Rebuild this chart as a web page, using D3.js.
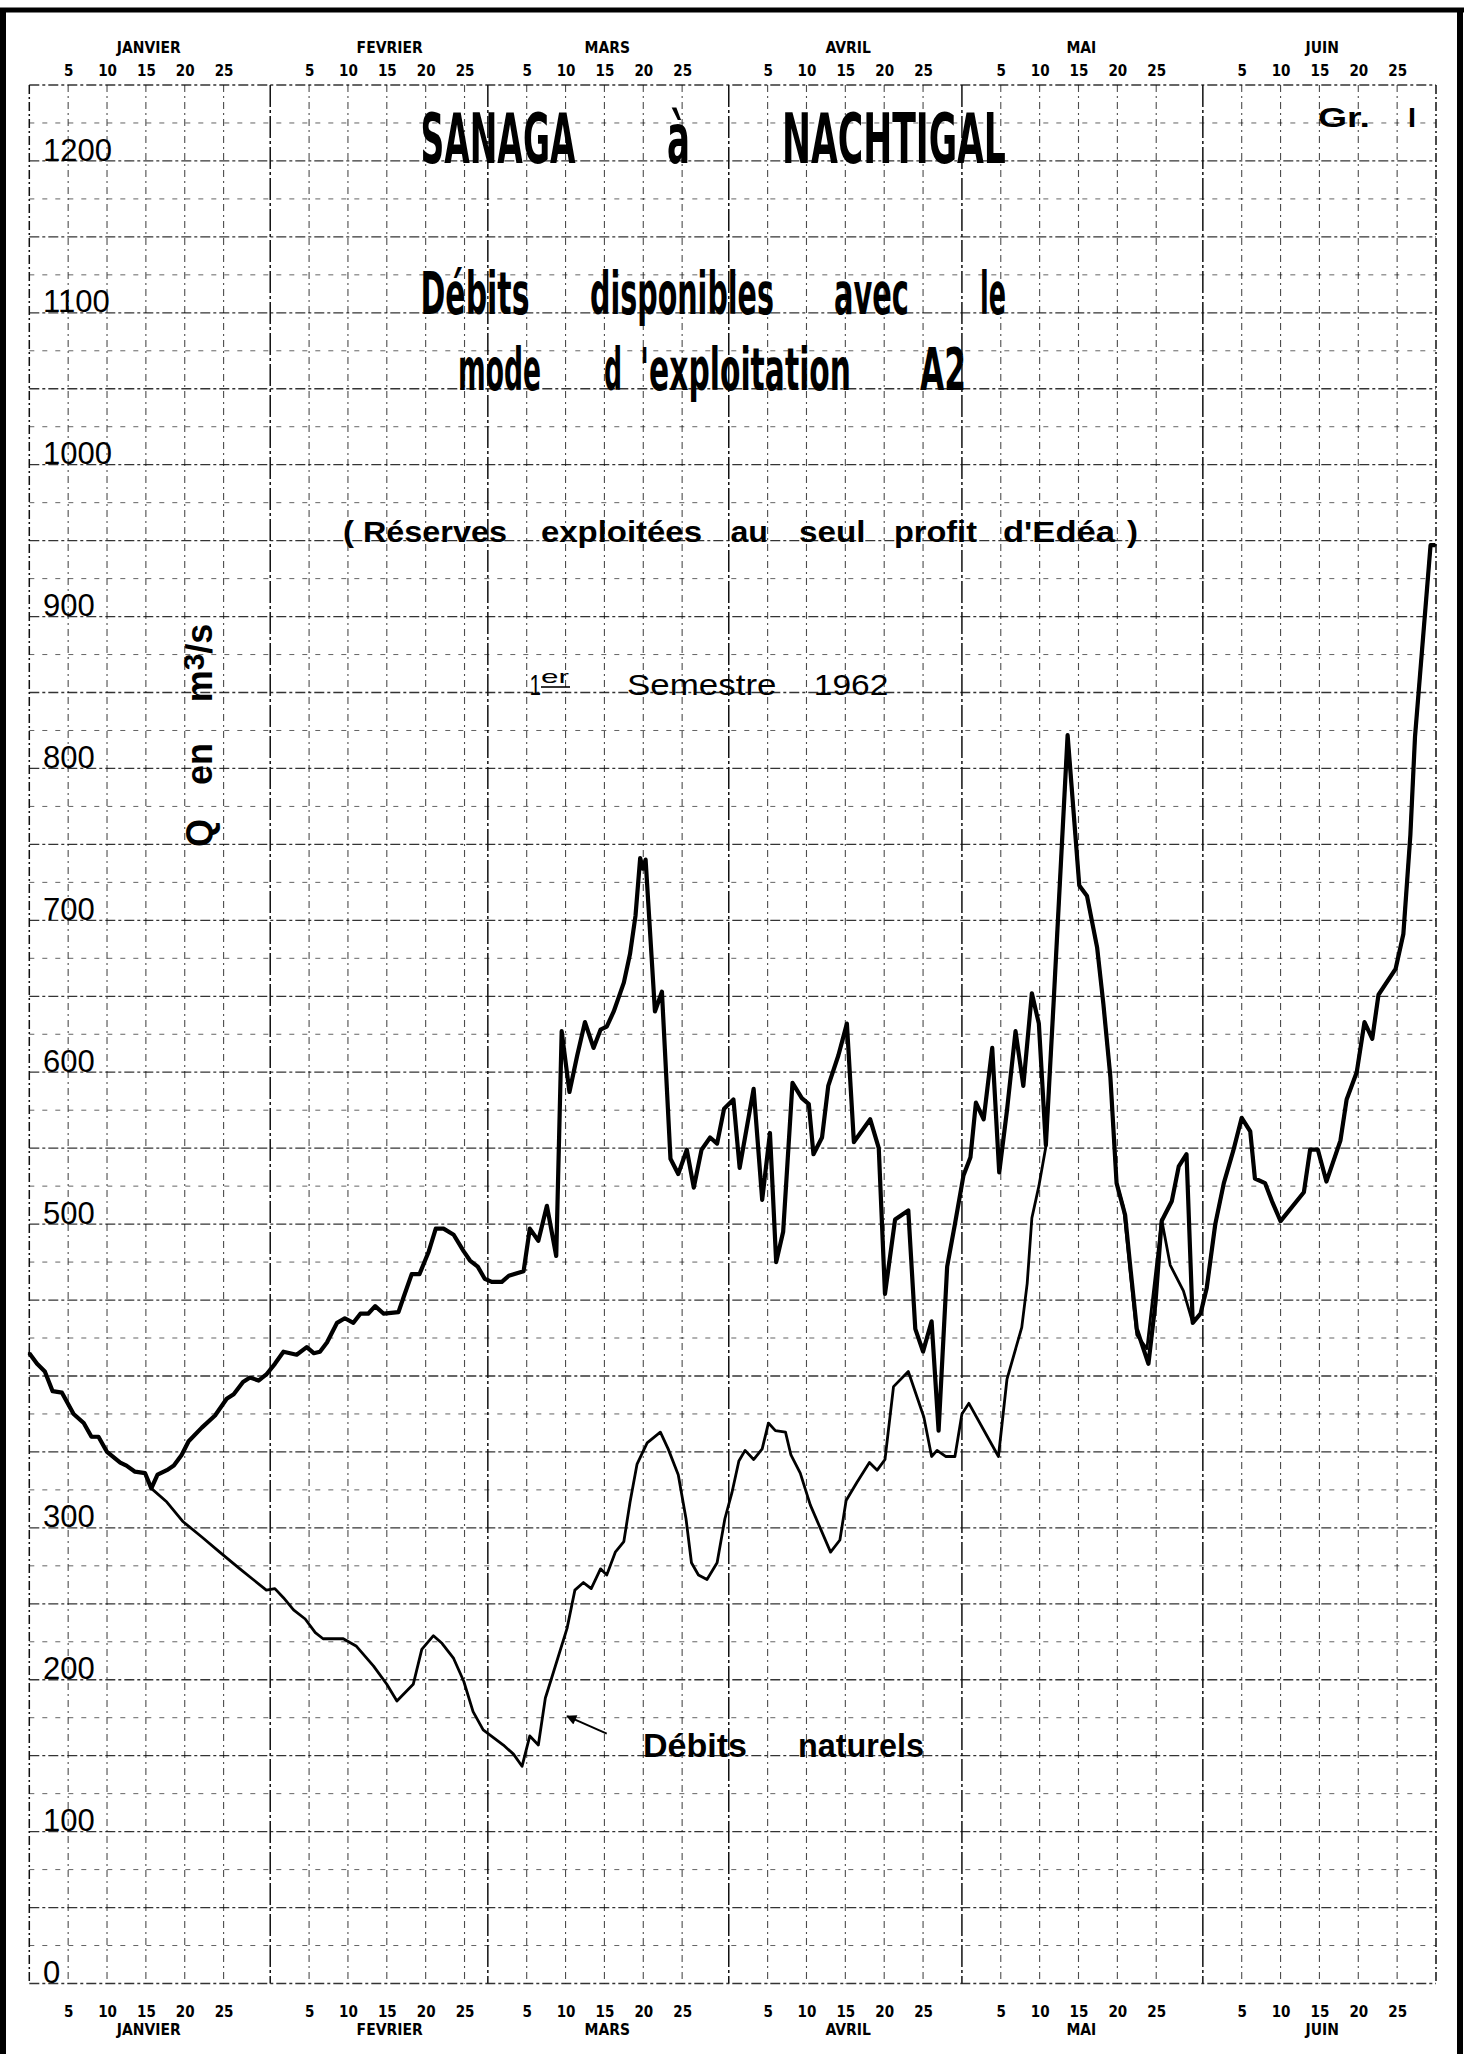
<!DOCTYPE html>
<html>
<head>
<meta charset="utf-8">
<script src="https://cdn.jsdelivr.net/npm/d3@7"></script>
<style>
html, body { margin: 0; padding: 0; background: #fff; }
svg { display: block; }
</style>
</head>
<body>
<svg id="chart" width="1464" height="2054"></svg>
<script>
// ---------------- DATA ----------------
const months = ["JANVIER", "FEVRIER", "MARS", "AVRIL", "MAI", "JUIN"];
const monthLengths = [31, 28, 31, 30, 31, 30];
const dayLabels = [5, 10, 15, 20, 25];
const yTickLabels = [0, 100, 200, 300, 500, 600, 700, 800, 900, 1000, 1100, 1200];

// days counted from 1 January 0h (1962), discharge in m3/s
const naturelsDays = [0, 1, 2, 3, 4.2, 5.7, 7, 8, 8.9, 10, 11.7, 12.5, 13.6, 14.9, 15.7,
  17.7, 19.8, 22.2, 24.5, 27.1, 28.8, 30.5, 31.6, 32.7, 34, 35.5, 36.8, 37.8, 40.4, 42.1,
  44.3, 46, 47.3, 49.4, 50.5, 52, 53.1, 54.6, 55.9, 57.1, 58.4, 61, 62.3, 63.4, 64.4, 65.5,
  66.4, 67.2, 69.2, 70.2, 71.3, 72.3, 73.5, 74.3, 75.4, 76.5, 77.3, 78.2, 79.5, 81.2, 82.2,
  83.5, 84.5, 85.2, 86.1, 87.2, 88.5, 89.5, 90.4, 91.3, 92.1, 93.2, 94.3, 95.1, 96, 97.3,
  98, 99.2, 100.5, 103.1, 104.3, 105.1, 106.5, 108.1, 109.1, 110.1, 111.2, 113.1, 115.1,
  116.1, 116.8, 117.9, 119.1, 120, 120.9, 124.7, 125.8, 127.7, 128.4, 129, 129.9, 130.8,
  131.8, 133.6, 135.1, 136.1, 137.4, 138.2, 139.1, 139.9, 140.8, 142.5, 143.8, 145.7, 146.8,
  148.5, 149.7, 150.7, 151.5, 152.6, 153.7, 154.9, 156, 157.1, 157.7, 159, 159.9, 161, 164,
  164.8, 165.8, 166.9, 168.7, 169.5, 170.8, 171.8, 172.8, 173.6, 175.8, 176.8, 177.7, 178.3,
  180.3, 180.9];
const naturelsQ = [415, 408, 403, 390, 389, 375, 369, 360, 360, 350, 343, 341, 337, 336, 326,
  317, 304, 294, 284, 273, 266, 259, 260, 254, 246, 240, 231, 227, 227, 222,
  209, 197, 186, 197, 220, 229, 224, 214, 199, 179, 167, 157, 151, 143, 163, 157,
  188, 201, 234, 259, 264, 260, 273, 269, 284, 291, 317, 342, 356, 363, 352,
  335, 306, 277, 269, 266, 277, 306, 323, 344, 351, 345, 352, 369, 364, 363,
  348, 336, 315, 284, 292, 318, 330, 343, 338, 345, 393, 403, 373,
  347, 351, 347, 347, 375, 382, 347, 398, 432, 461, 504, 525, 551,
  646, 822, 723, 716, 682, 645, 597, 527, 511, 427, 418, 503, 473,
  456, 435, 441, 458, 500, 527, 548, 570, 561, 530, 527, 515, 502, 521,
  549, 549, 528, 555, 582, 600, 633, 622, 651, 668, 691, 756, 821,
  947, 947];

const disponiblesDays = [0, 1, 2, 3, 4.2, 5.7, 7, 8, 8.9, 10, 11.7, 12.5, 13.6, 14.9, 15.7,
  16.5, 17.7, 18.6, 19.6, 20.5, 22.2, 23.9, 25.4, 26.3, 27.5, 28.4, 29.5, 30.5, 31.6, 32.7,
  34.4, 35.7, 36.6, 37.4, 38.3, 39.6, 40.6, 41.7, 42.6, 43.6, 44.5, 45.6, 47.5, 48.1, 49.2,
  50.2, 51.4, 52.3, 53.3, 54.6, 55.9, 56.7, 57.7, 58.6, 59.5, 60.8, 61.7, 63.6, 64.4, 65.5,
  66.6, 67.8, 68.5, 69.5, 70.5, 71.5, 72.6, 73.5, 74.3, 75.2, 76.5, 77.3, 78, 78.6, 78.95,
  79.3, 80.5, 81.4, 82.5, 83.5, 84.6, 85.5, 86.5, 87.6, 88.5, 89.4, 90.6, 91.4, 93.2, 94.3,
  95.3, 96.1, 97, 98.2, 99.4, 100.3, 100.9, 102, 102.8, 104.1, 105.2, 106.1, 108.2, 109.3,
  110.1, 111.4, 113.1, 114, 115, 116.1, 117, 118.1, 119.1, 120.2, 121.1, 121.8, 122.8, 123.9,
  124.8, 125.8, 126.9, 127.9, 129, 129.9, 130.8, 131.8, 133.6, 135.1, 136.1, 137.4, 138.2,
  139.1, 139.9, 141, 141.6, 142.5, 144, 144.9, 145.7, 147, 147.9, 148.9, 149.7, 150.7, 151.5,
  152.6, 153.7, 154.9, 156, 157.1, 157.7, 159, 159.9, 161, 164, 164.8, 165.8, 166.9, 168.7,
  169.5, 170.8, 171.8, 172.8, 173.6, 175.8, 176.8, 177.7, 178.3, 180.3, 180.9];
const disponiblesQ = [415, 408, 403, 390, 389, 375, 369, 360, 360, 350, 343, 341, 337, 336, 326,
  335, 338, 341, 348, 357, 366, 374, 385, 388, 396, 399, 397, 401, 408, 416,
  414, 419, 415, 416, 422, 435, 438, 435, 441, 441, 446, 441, 442, 451, 467,
  467, 482, 497, 497, 493, 482, 476, 472, 464, 462, 462, 466, 469, 497, 489,
  512, 479, 627, 587, 611, 633, 616, 628, 630, 640, 659, 678, 703, 741, 734,
  740, 640, 653, 543, 533, 549, 524, 549, 557, 553, 576, 582, 537, 589, 516,
  560, 475, 495, 593, 583, 579, 546, 557, 591, 611, 632, 554, 569, 550,
  454, 503, 509, 431, 416, 436, 364, 472, 500, 532, 544, 580, 569, 616,
  534, 575, 627, 591, 652, 632, 552, 646, 822, 723, 716, 682, 645,
  597, 527, 506, 475, 431, 408, 448, 502, 515, 538, 546, 435, 441, 458,
  500, 527, 548, 570, 561, 530, 527, 515, 502, 521, 549, 549, 528, 555,
  582, 600, 633, 622, 651, 668, 691, 756, 821, 947, 947];

// ---------------- DRAWING ----------------
const W = 1464, H = 2054;
const svg = d3.select("#chart");
svg.append("rect").attr("width", W).attr("height", H).attr("fill", "#fff");

const monthStarts = Array.from(d3.cumsum([0, ...monthLengths]));
const x = d3.scaleLinear().domain([0, d3.sum(monthLengths)]).range([29.3, 1436]);
const y = d3.scaleLinear().domain([0, 1250]).range([1983.5, 85]);

const INK = "#111";
const grid = svg.append("g").attr("fill", "none");

// horizontal grid every 25 m3/s
grid.selectAll("line.h").data(d3.range(0, 1251, 25)).join("line")
  .attr("x1", x(0)).attr("x2", x.range()[1])
  .attr("y1", d => y(d)).attr("y2", d => y(d))
  .attr("stroke", INK)
  .attr("stroke-width", d => d % 50 === 0 ? 1.3 : 1.0)
  .attr("stroke-opacity", d => d % 50 === 0 ? 0.85 : 0.65)
  .attr("stroke-dasharray", d => d % 50 === 0 ? "10,3,3,3" : "5,8");

// vertical grid every 5 days within each month
const fiveDays = monthStarts.slice(0, 6).flatMap(s => dayLabels.map(dl => s + dl));
grid.selectAll("line.v").data(fiveDays).join("line")
  .attr("x1", d => x(d)).attr("x2", d => x(d))
  .attr("y1", y(1250)).attr("y2", y(0))
  .attr("stroke", INK).attr("stroke-width", 1.1).attr("stroke-opacity", 0.75)
  .attr("stroke-dasharray", "7,4,2,4");

// month boundaries
grid.selectAll("line.m").data(monthStarts).join("line")
  .attr("x1", d => x(d)).attr("x2", d => x(d))
  .attr("y1", y(1250)).attr("y2", y(0))
  .attr("stroke", INK).attr("stroke-width", 1.5)
  .attr("stroke-dasharray", (d, i) => (i === 0 || i === 6) ? "9,3,2,3" : "22,3,3,3");

// outer thick border of the sheet
const border = svg.append("g").attr("stroke", "#000").attr("fill", "none");
border.append("line").attr("x1", 0).attr("x2", W).attr("y1", 10).attr("y2", 10).attr("stroke-width", 5);
border.append("line").attr("x1", 3).attr("x2", 3).attr("y1", 8).attr("y2", H).attr("stroke-width", 6);
border.append("line").attr("x1", 1460).attr("x2", 1460).attr("y1", 8).attr("y2", H).attr("stroke-width", 6);

// ---------------- CURVES ----------------
const line = d3.line().x(d => x(d[0])).y(d => y(d[1]));
const natPts = naturelsDays.map((d, i) => [d, naturelsQ[i]]);
const dispPts = disponiblesDays.map((d, i) => [d, disponiblesQ[i]]);

svg.append("path").datum(natPts).attr("d", line)
  .attr("fill", "none").attr("stroke", "#000").attr("stroke-width", 2.8)
  .attr("stroke-linejoin", "round").attr("stroke-linecap", "round");
svg.append("path").datum(dispPts).attr("d", line)
  .attr("fill", "none").attr("stroke", "#000").attr("stroke-width", 4.2)
  .attr("stroke-linejoin", "round").attr("stroke-linecap", "butt");

// ---------------- AXES ----------------
const NARROW = "'Liberation Sans Narrow', 'DejaVu Sans Condensed', 'Liberation Sans', sans-serif";
const SANS = "'Liberation Sans', Arial, sans-serif";
const dayText = d => d - monthStarts[d3.bisectRight(monthStarts, d) - 1];
const monthMid = monthStarts.slice(0, 6).map(s => s + 15.3);

function styleAxis(g, size, family, weight, dy) {
  g.select(".domain").remove();
  g.attr("font-size", size).attr("font-family", family).attr("font-weight", weight);
  g.selectAll("text").attr("dy", dy).attr("fill", "#000").attr("font-stretch", "condensed");
}

svg.append("g").attr("transform", "translate(0,76)")
  .call(d3.axisTop(x).tickValues(fiveDays).tickFormat(dayText).tickSize(0).tickPadding(0))
  .call(g => styleAxis(g, 15, NARROW, 700, "0"));
svg.append("g").attr("transform", "translate(0,52.5)")
  .call(d3.axisTop(x).tickValues(monthMid).tickFormat((d, i) => months[i]).tickSize(0).tickPadding(0))
  .call(g => styleAxis(g, 15.5, NARROW, 700, "0"));
svg.append("g").attr("transform", "translate(0,2016.5)")
  .call(d3.axisBottom(x).tickValues(fiveDays).tickFormat(dayText).tickSize(0).tickPadding(0))
  .call(g => styleAxis(g, 15, NARROW, 700, "0"));
svg.append("g").attr("transform", "translate(0,2035)")
  .call(d3.axisBottom(x).tickValues(monthMid).tickFormat((d, i) => months[i]).tickSize(0).tickPadding(0))
  .call(g => styleAxis(g, 15.5, NARROW, 700, "0"));

svg.append("g").attr("transform", "translate(43,0)")
  .call(d3.axisRight(y).tickValues(yTickLabels).tickFormat(d3.format("d")).tickSize(0).tickPadding(0))
  .call(g => {
    g.select(".domain").remove();
    g.attr("font-size", 31).attr("font-family", SANS).attr("font-weight", 400);
    g.selectAll("text").attr("dy", "-0.03em").attr("fill", "#000");
  });

// y axis title (rotated)
[["Q", 833], ["en", 764]].forEach(([t, cy]) => {
  svg.append("text").attr("transform", `translate(212,${cy}) rotate(-90)`)
    .attr("text-anchor", "middle").attr("font-family", SANS).attr("font-weight", 700)
    .attr("font-size", 36).text(t);
});
const mt = svg.append("text").attr("transform", "translate(212,663) rotate(-90)")
  .attr("text-anchor", "middle").attr("font-family", SANS).attr("font-weight", 700).attr("font-size", 36);
mt.append("tspan").text("m");
mt.append("tspan").attr("dy", -8).attr("font-size", 30).text("3");
mt.append("tspan").attr("dy", 8).text("/s");

// ---------------- TITLES ----------------
// each word is scaled horizontally to the width it has in the reference
function words(list, baseline, size, family, weight) {
  list.forEach(([t, x0, len]) => {
    const g = svg.append("g").attr("transform", `translate(${x0},${baseline})`);
    const tx = g.append("text")
      .attr("font-family", family).attr("font-weight", weight).attr("font-size", size)
      .attr("fill", "#000").text(t);
    const w = tx.node().getComputedTextLength() || len;
    tx.attr("transform", `scale(${len / w},1)`);
  });
}
words([["SANAGA", 420.5, 155], ["à", 667, 23], ["NACHTIGAL", 782, 224]], 162.5, 70, NARROW, 700);
words([["Débits", 420.5, 109], ["disponibles", 590, 184], ["avec", 834, 75], ["le", 980, 26]], 314, 58, NARROW, 700);
words([["mode", 458, 83], ["d", 604, 18], ["'exploitation", 640, 211], ["A2", 920, 46]], 390, 58, NARROW, 700);
words([["(", 343, 11], ["Réserves", 363, 144], ["exploitées", 541, 161], ["au", 730.5, 37.5],
       ["seul", 799, 66.5], ["profit", 894, 83], ["d'Edéa", 1003, 112], [")", 1127, 11]], 542, 29, SANS, 700);
words([["1", 529.6, 11.5], ["Semestre", 627, 149.5], ["1962", 813.8, 74.6]], 695, 30, SANS, 400);
words([["er", 541, 28]], 683, 18, SANS, 400);
svg.append("line").attr("x1", 541).attr("x2", 570).attr("y1", 687).attr("y2", 687)
  .attr("stroke", "#000").attr("stroke-width", 1.6);
words([["Gr.", 1318, 52], ["I", 1408, 8]], 127, 28, SANS, 700);

// ---------------- ANNOTATION ----------------
svg.append("defs").append("marker").attr("id", "arrow")
  .attr("viewBox", "0 0 10 10").attr("refX", 9).attr("refY", 5)
  .attr("markerWidth", 7).attr("markerHeight", 5).attr("orient", "auto")
  .append("path").attr("d", "M0,0 L10,5 L0,10 Z").attr("fill", "#000");
svg.append("line")
  .attr("x1", x(74.3)).attr("y1", y(164.5)).attr("x2", x(69.2)).attr("y2", y(176))
  .attr("stroke", "#000").attr("stroke-width", 2).attr("marker-end", "url(#arrow)");
words([["Débits", 643, 104], ["naturels", 798, 126]], 1757, 33, SANS, 700);
</script>
</body>
</html>
